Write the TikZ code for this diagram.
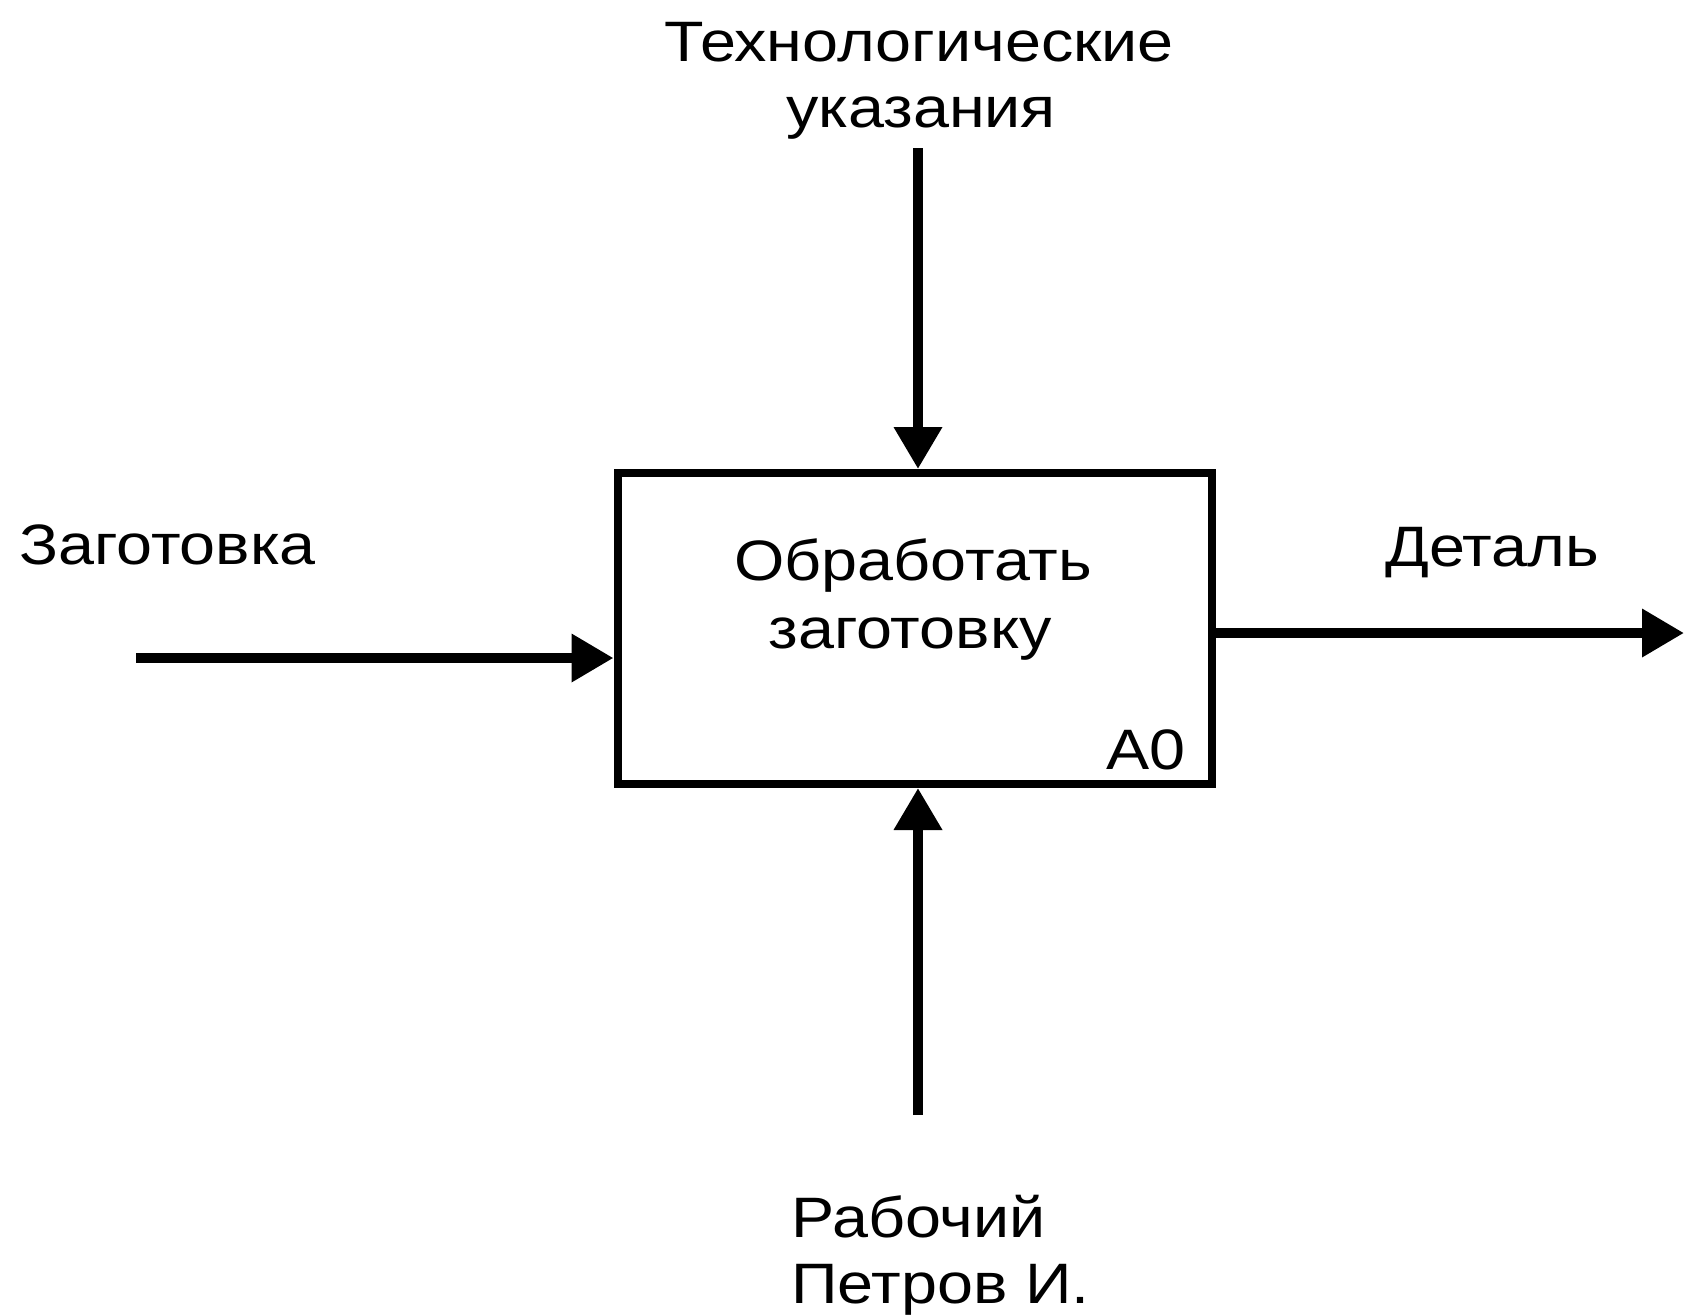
\documentclass[tikz,border=0pt]{standalone}
\usepackage{fontspec}
\setmainfont{Liberation Sans}[FakeStretch=1.135]
\usetikzlibrary{arrows.meta}
\begin{document}
\begin{tikzpicture}[x=1pt,y=-1pt,
  lbl/.style={inner sep=0pt,font=\fontsize{57}{66}\selectfont},
  flow/.style={line width=10pt,-{Triangle[length=42pt,width=46pt]}},
  funcbox/.style={draw,line width=8pt,minimum width=594pt,minimum height=311pt,inner sep=0pt}]
\useasboundingbox[fill=white] (0,0) rectangle (1684,1315);
\node[funcbox] (box) at (914.5,628.5) {};
\node[lbl,anchor=base] (t1) at (913,580) {Обработать};
\node[lbl,anchor=base] (t2) at (910,648) {заготовку};
\node[lbl,anchor=base east] (a0) at (1186,769) {A0};
\node[lbl,anchor=base] (ctl) at (919,61) {Технологические};
\node[lbl,anchor=base] (ctl2) at (921,127) {указания};
\node[lbl,anchor=base west] (inp) at (19,564) {Заготовка};
\node[lbl,anchor=base west] (outp) at (1385,566) {Деталь};
\node[lbl,anchor=base west] (m1) at (791,1237) {Рабочий};
\node[lbl,anchor=base west] (m2) at (791,1303) {Петров И.};
\coordinate (ctop) at (918,148);
\coordinate (inl) at (136,658);
\coordinate (outr) at (1684,633);
\coordinate (mech) at (918,1115);
\draw[flow] (ctop) -- (ctop |- box.north);
\draw[flow] (inl) -- (inl -| box.west);
\draw[flow] (box.east |- outr) -- (outr);
\draw[flow] (mech) -- (mech |- box.south);
\end{tikzpicture}
\end{document}
